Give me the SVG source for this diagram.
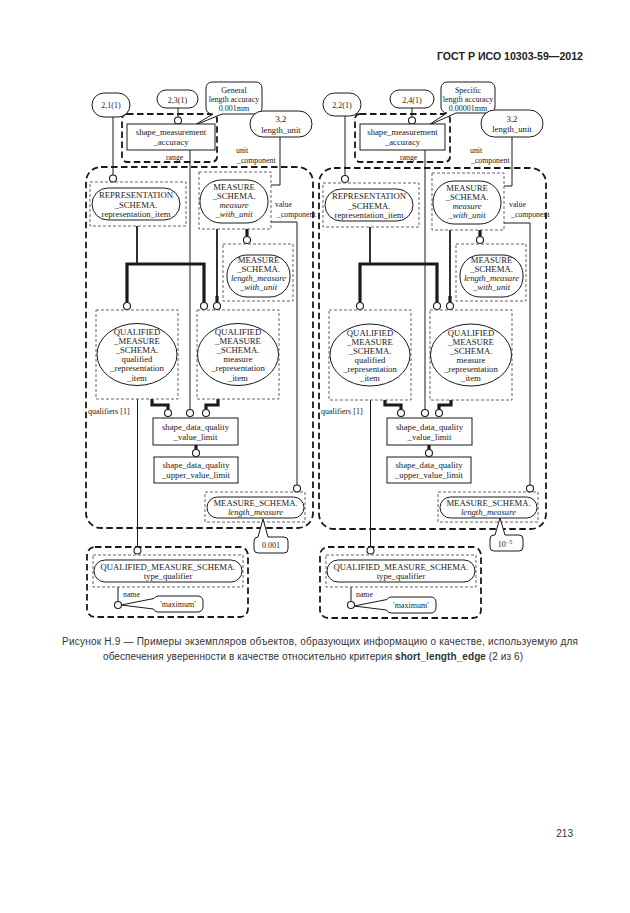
<svg xmlns="http://www.w3.org/2000/svg" width="630" height="913" viewBox="0 0 630 913">
<style>
.t{font-family:"Liberation Serif",serif;font-size:8.7px;fill:#1a1a1a;text-anchor:middle}
.i{font-style:italic}
.s{font-size:8px}
.lb{font-family:"Liberation Serif",serif;font-size:7.8px;fill:#1a1a1a;text-anchor:start}
.gd{fill:none;stroke:#1a1a1a;stroke-width:1.8;stroke-dasharray:6.5 3.5}
.id{fill:none;stroke:#555;stroke-width:0.9;stroke-dasharray:3 2}
.sh{fill:#fff;stroke:#1a1a1a;stroke-width:1}
.ln{fill:none;stroke:#1a1a1a;stroke-width:1}
.md{fill:none;stroke:#1a1a1a;stroke-width:1.8}
.tk{fill:none;stroke:#1a1a1a;stroke-width:3.2}
.c{fill:#fff;stroke:#1a1a1a;stroke-width:1.1}
.cap{font-family:"Liberation Sans",Arial,sans-serif;font-size:10px;fill:#333;text-anchor:middle}
</style>
<rect width="630" height="913" fill="#fff"/>
<text x="583" y="60" style="font-family:'Liberation Sans',Arial,sans-serif;font-size:10.6px;font-weight:bold;fill:#222;text-anchor:end">ГОСТ Р ИСО 10303-59—2012</text>

<!-- LEFT DIAGRAM -->
<g id="left">
<g id="L_groups">
<rect class="gd" x="122" y="114" width="95" height="48" rx="5"/>
<rect class="gd" x="86" y="167" width="227" height="361" rx="15"/>
<rect class="gd" x="87" y="547" width="161" height="70" rx="8"/>
</g>
<g id="L_connectors">
<path class="ln" d="M113,117V175"/>
<path class="ln" d="M178,108V117"/>
<path class="ln" d="M190,150V409.5"/>
<path class="ln" d="M280,137V185H271"/>
<path class="ln" d="M271,222H297V485"/>
<path class="md" d="M137,226V264"/>
<path class="tk" d="M127,302.5V264H204V302.5"/>
<path class="md" d="M217,229V297"/>
<path class="tk" d="M217,296V302.5"/>
<path class="tk" d="M247,229V236.5"/>
<path class="ln" d="M137.5,399V547"/>
<path class="tk" d="M152,399V405H168V409.5"/>
<path class="tk" d="M218,399V405H206V409.5"/>
<path class="tk" d="M196,445V449.5"/>
<path class="ln" d="M118,587V601.5"/>
<circle class="c" cx="113" cy="178.5" r="3.5"/>
<circle class="c" cx="178" cy="120.5" r="3.5"/>
<circle class="c" cx="190" cy="413" r="3.5"/>
<circle class="c" cx="297" cy="488.5" r="3.5"/>
<circle class="c" cx="127" cy="306" r="3.5"/>
<circle class="c" cx="204" cy="306" r="3.5"/>
<circle class="c" cx="217" cy="306" r="3.5"/>
<circle class="c" cx="247" cy="240" r="3.5"/>
<circle class="c" cx="137.5" cy="550.5" r="3.5"/>
<circle class="c" cx="168" cy="413" r="3.5"/>
<circle class="c" cx="206" cy="413" r="3.5"/>
<circle class="c" cx="196" cy="453" r="3.5"/>
<circle class="c" cx="118" cy="605" r="3.5"/>
<text class="lb" x="166" y="159.5">range</text>
<text class="lb" x="236" y="153">unit</text>
<text class="lb" x="237" y="162.5">_component</text>
<text class="lb" x="275" y="207">value</text>
<text class="lb" x="277" y="216.5">_component</text>
<text class="lb" x="88" y="414" style="font-size:8px">qualifiers [1]</text>
<text class="lb" x="123" y="597">name</text>
</g>
<g id="L_ref21">
<rect class="sh" x="92" y="93" width="38" height="24" rx="12"/>
<text class="t s" x="111" y="108">2,1(1)</text>
</g>
<g id="L_ref23">
<rect class="sh" x="157" y="90" width="41" height="18" rx="9"/>
<text class="t s" x="177.5" y="102.5">2,3(1)</text>
</g>
<g id="L_note_general">
<path class="sh" d="M212,82H256A6,6 0 0 1 262,88V108A6,6 0 0 1 256,114H222L193,126L213,114H212A6,6 0 0 1 206,108V88A6,6 0 0 1 212,82Z"/>
<text class="t s" x="234" y="93">General</text>
<text class="t s" x="234" y="102">length accuracy</text>
<text class="t s" x="234" y="111">0.001mm</text>
</g>
<g id="L_sma">
<rect class="sh" x="127" y="124" width="88" height="26"/>
<text class="t" x="171" y="135">shape_measurement</text>
<text class="t" x="171" y="145">_accuracy</text>
</g>
<g id="L_lu">
<rect class="sh" x="250" y="111" width="62" height="26" rx="13"/>
<text class="t" x="281" y="122">3,2</text>
<text class="t" x="281" y="132.5">length_unit</text>
</g>
<g id="L_rep">
<rect class="id" x="90" y="182" width="96" height="44"/>
<rect class="sh" x="92" y="188" width="88" height="32" rx="16"/>
<text class="t" x="136" y="198">REPRESENTATION</text>
<text class="t" x="136" y="207.5">_SCHEMA.</text>
<text class="t" x="136" y="216.5">representation_item</text>
</g>
<g id="L_mwu">
<rect class="id" x="199" y="172" width="72" height="57"/>
<rect class="sh" x="200" y="180" width="68" height="43" rx="21"/>
<text class="t" x="234" y="190">MEASURE</text>
<text class="t" x="234" y="199">_SCHEMA.</text>
<text class="t i" x="234" y="208">measure</text>
<text class="t i" x="234" y="217">_with_unit</text>
</g>
<g id="L_lmwu">
<rect class="id" x="223" y="244" width="70" height="57"/>
<rect class="sh" x="227" y="255" width="63" height="42" rx="20"/>
<text class="t" x="258.5" y="262.5">MEASURE</text>
<text class="t" x="258.5" y="271.5">_SCHEMA.</text>
<text class="t i" x="258.5" y="281">length_measure</text>
<text class="t i" x="258.5" y="290">_with_unit</text>
</g>
<g id="L_qri">
<rect class="id" x="96" y="310" width="82" height="89"/>
<ellipse class="sh" cx="137" cy="354.5" rx="40" ry="31"/>
<text class="t" x="137" y="335">QUALIFIED</text>
<text class="t" x="137" y="344">_MEASURE</text>
<text class="t" x="137" y="353">_SCHEMA.</text>
<text class="t" x="137" y="362">qualified</text>
<text class="t" x="137" y="371">_representation</text>
<text class="t" x="137" y="380.5">_item</text>
</g>
<g id="L_mri">
<rect class="id" x="197" y="310" width="82" height="89"/>
<ellipse class="sh" cx="238" cy="354.5" rx="40.5" ry="31"/>
<text class="t" x="238" y="335">QUALIFIED</text>
<text class="t" x="238" y="344">_MEASURE</text>
<text class="t" x="238" y="353">_SCHEMA.</text>
<text class="t" x="238" y="362">measure</text>
<text class="t" x="238" y="371">_representation</text>
<text class="t" x="238" y="380.5">_item</text>
</g>
<g id="L_vl">
<rect class="sh" x="153" y="418" width="85" height="27"/>
<text class="t" x="195.5" y="430">shape_data_quality</text>
<text class="t" x="195.5" y="439.5">_value_limit</text>
</g>
<g id="L_uvl">
<rect class="sh" x="154" y="457" width="84" height="26"/>
<text class="t" x="196" y="468">shape_data_quality</text>
<text class="t" x="196" y="477.5">_upper_value_limit</text>
</g>
<g id="L_lm">
<rect class="id" x="205" y="492" width="100" height="30"/>
<rect class="sh" x="207" y="497" width="97" height="21" rx="10.5"/>
<text class="t" x="255.5" y="505.5">MEASURE_SCHEMA.</text>
<text class="t i" x="255.5" y="515">length_measure</text>
</g>
<g id="L_note_val">
<path class="sh" d="M258,537L263,519L268,537H284A4,4 0 0 1 288,541V549A4,4 0 0 1 284,553H258A4,4 0 0 1 254,549V541A4,4 0 0 1 258,537Z"/>
<text class="t s" x="271" y="548">0.001</text>
</g>
<g id="L_tq">
<rect class="id" x="93" y="555" width="150" height="32"/>
<rect class="sh" x="94" y="560" width="148" height="22" rx="11"/>
<text class="t" x="168" y="569.5">QUALIFIED_MEASURE_SCHEMA.</text>
<text class="t" x="168" y="579">type_qualifier</text>
</g>
<g id="L_note_max">
<path class="sh" d="M158,596H198A5,5 0 0 1 203,601V607A5,5 0 0 1 198,612H158A5,5 0 0 1 153.5,609L121,605L154,598.5A5,5 0 0 1 158,596Z"/>
<text class="t s" x="178" y="607">'maximum'</text>
</g>
</g>

<!-- RIGHT DIAGRAM -->
<g id="right" transform="translate(233,0)">
<g id="R_groups">
<rect class="gd" x="122" y="114" width="95" height="48" rx="5"/>
<rect class="gd" x="86" y="168" width="227" height="361" rx="15"/>
<rect class="gd" x="87" y="547" width="161" height="71" rx="8"/>
</g>
<g id="R_connectors">
<path class="ln" d="M112,116V175"/>
<path class="ln" d="M179,108V117"/>
<path class="ln" d="M192,150V409.5"/>
<path class="ln" d="M279,137V186H271"/>
<path class="ln" d="M271,223H297V485"/>
<path class="md" d="M137,227V264"/>
<path class="tk" d="M127,302.5V264H204V302.5"/>
<path class="md" d="M217,230V297"/>
<path class="tk" d="M217,296V302.5"/>
<path class="tk" d="M247,230V236.5"/>
<path class="ln" d="M137.5,400V547"/>
<path class="tk" d="M152,400V405H168V409.5"/>
<path class="tk" d="M218,400V405H206V409.5"/>
<path class="tk" d="M196,445V449.5"/>
<path class="ln" d="M118,587V601.5"/>
<circle class="c" cx="112" cy="179" r="3.5"/>
<circle class="c" cx="179" cy="120.5" r="3.5"/>
<circle class="c" cx="192" cy="413" r="3.5"/>
<circle class="c" cx="297" cy="488.5" r="3.5"/>
<circle class="c" cx="127" cy="306" r="3.5"/>
<circle class="c" cx="204" cy="306" r="3.5"/>
<circle class="c" cx="217" cy="306" r="3.5"/>
<circle class="c" cx="247" cy="240" r="3.5"/>
<circle class="c" cx="137.5" cy="550.5" r="3.5"/>
<circle class="c" cx="168" cy="413" r="3.5"/>
<circle class="c" cx="206" cy="413" r="3.5"/>
<circle class="c" cx="196" cy="453" r="3.5"/>
<circle class="c" cx="118" cy="605" r="3.5"/>
<text class="lb" x="167" y="159.5">range</text>
<text class="lb" x="237" y="153">unit</text>
<text class="lb" x="238" y="162.5">_component</text>
<text class="lb" x="276" y="207">value</text>
<text class="lb" x="278" y="216.5">_component</text>
<text class="lb" x="88" y="414" style="font-size:8px">qualifiers [1]</text>
<text class="lb" x="123" y="597">name</text>
</g>
<g id="R_ref22">
<rect class="sh" x="90" y="93" width="38" height="23" rx="11.5"/>
<text class="t s" x="109" y="107.5">2,2(1)</text>
</g>
<g id="R_ref24">
<rect class="sh" x="157" y="90" width="44" height="18" rx="9"/>
<text class="t s" x="179" y="102.5">2,4(1)</text>
</g>
<g id="R_note_specific">
<path class="sh" d="M214,82H256A6,6 0 0 1 262,88V107A6,6 0 0 1 256,113H223L194,126L214,113A6,6 0 0 1 208,107V88A6,6 0 0 1 214,82Z"/>
<text class="t s" x="235" y="92.5">Specific</text>
<text class="t s" x="235" y="101.5">length accuracy</text>
<text class="t s" x="235" y="110.5">0.00001mm</text>
</g>
<g id="R_sma">
<rect class="sh" x="127" y="124" width="85" height="26"/>
<text class="t" x="169.5" y="135">shape_measurement</text>
<text class="t" x="169.5" y="145">_accuracy</text>
</g>
<g id="R_lu">
<rect class="sh" x="248" y="110" width="62" height="27" rx="13.5"/>
<text class="t" x="279" y="121.5">3,2</text>
<text class="t" x="279" y="132">length_unit</text>
</g>
<g id="R_rep">
<rect class="id" x="90" y="183" width="96" height="44"/>
<rect class="sh" x="92" y="189" width="88" height="32" rx="16"/>
<text class="t" x="136" y="199">REPRESENTATION</text>
<text class="t" x="136" y="208.5">_SCHEMA.</text>
<text class="t" x="136" y="217.5">representation_item</text>
</g>
<g id="R_mwu">
<rect class="id" x="199" y="173" width="72" height="57"/>
<rect class="sh" x="200" y="181" width="68" height="43" rx="21"/>
<text class="t" x="234" y="191">MEASURE</text>
<text class="t" x="234" y="200">_SCHEMA.</text>
<text class="t i" x="234" y="209">measure</text>
<text class="t i" x="234" y="218">_with_unit</text>
</g>
<g id="R_lmwu">
<rect class="id" x="223" y="244" width="70" height="57"/>
<rect class="sh" x="227" y="255" width="63" height="42" rx="20"/>
<text class="t" x="258.5" y="262.5">MEASURE</text>
<text class="t" x="258.5" y="271.5">_SCHEMA.</text>
<text class="t i" x="258.5" y="281">length_measure</text>
<text class="t i" x="258.5" y="290">_with_unit</text>
</g>
<g id="R_qri">
<rect class="id" x="96" y="310" width="82" height="90"/>
<ellipse class="sh" cx="137" cy="355" rx="40" ry="31"/>
<text class="t" x="137" y="335.5">QUALIFIED</text>
<text class="t" x="137" y="344.5">_MEASURE</text>
<text class="t" x="137" y="353.5">_SCHEMA.</text>
<text class="t" x="137" y="362.5">qualified</text>
<text class="t" x="137" y="371.5">_representation</text>
<text class="t" x="137" y="381">_item</text>
</g>
<g id="R_mri">
<rect class="id" x="197" y="310" width="82" height="90"/>
<ellipse class="sh" cx="238" cy="355" rx="40.5" ry="31"/>
<text class="t" x="238" y="335.5">QUALIFIED</text>
<text class="t" x="238" y="344.5">_MEASURE</text>
<text class="t" x="238" y="353.5">_SCHEMA.</text>
<text class="t" x="238" y="362.5">measure</text>
<text class="t" x="238" y="371.5">_representation</text>
<text class="t" x="238" y="381">_item</text>
</g>
<g id="R_vl">
<rect class="sh" x="154" y="418" width="85" height="27"/>
<text class="t" x="196.5" y="430">shape_data_quality</text>
<text class="t" x="196.5" y="439.5">_value_limit</text>
</g>
<g id="R_uvl">
<rect class="sh" x="154" y="457" width="84" height="26"/>
<text class="t" x="196" y="468">shape_data_quality</text>
<text class="t" x="196" y="477.5">_upper_value_limit</text>
</g>
<g id="R_lm">
<rect class="id" x="205" y="492" width="100" height="30"/>
<rect class="sh" x="207" y="497" width="97" height="21" rx="10.5"/>
<text class="t" x="255.5" y="505.5">MEASURE_SCHEMA.</text>
<text class="t i" x="255.5" y="515">length_measure</text>
</g>
<g id="R_note_val">
<path class="sh" d="M261,535H262L267,518L272,535H286A4,4 0 0 1 290,539V547A4,4 0 0 1 286,551H261A4,4 0 0 1 257,547V539A4,4 0 0 1 261,535Z"/>
<text class="t s" x="272" y="546.5">10<tspan dy="-3" style="font-size:6px">−5</tspan></text>
</g>
<g id="R_tq">
<rect class="id" x="93" y="555" width="150" height="32"/>
<rect class="sh" x="94" y="560" width="148" height="22" rx="11"/>
<text class="t" x="168" y="569.5">QUALIFIED_MEASURE_SCHEMA.</text>
<text class="t" x="168" y="579">type_qualifier</text>
</g>
<g id="R_note_max">
<path class="sh" d="M158,597H198A5,5 0 0 1 203,602V608A5,5 0 0 1 198,613H158A5,5 0 0 1 153.5,610L121,606L154,599.5A5,5 0 0 1 158,597Z"/>
<text class="t s" x="178" y="608">'maximum'</text>
</g>
</g>

<g id="caption">
<text class="cap" x="320" y="644.5" textLength="516" lengthAdjust="spacing">Рисунок Н.9 — Примеры экземпляров объектов, образующих информацию о качестве, используемую для</text>
<text class="cap" x="313" y="659.5" textLength="420" lengthAdjust="spacing">обеспечения уверенности в качестве относительно критерия <tspan font-weight="bold">short_length_edge</tspan> (2 из 6)</text>
</g>
<text x="573" y="837" style="font-family:'Liberation Sans',Arial,sans-serif;font-size:10px;fill:#333;text-anchor:end">213</text>
</svg>
